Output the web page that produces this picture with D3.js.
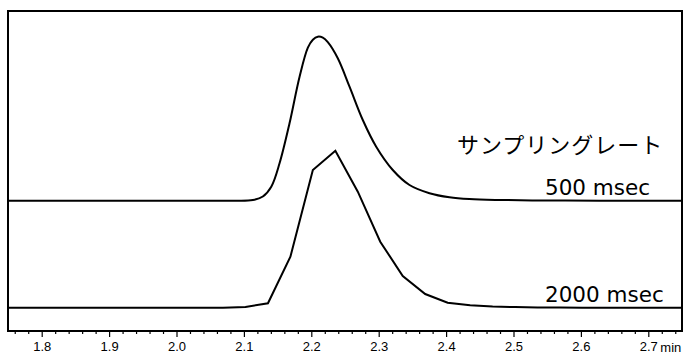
<!DOCTYPE html>
<html>
<head>
<meta charset="utf-8">
<script src="https://cdn.jsdelivr.net/npm/d3@7"></script>
<style>
  html, body { margin: 0; padding: 0; background: #fff; }
  svg { display: block; }
</style>
</head>
<body>
<svg id="chart" width="690" height="355"></svg>
<script>
// ---- Data (time in min, signal heights above each trace's baseline) ----
const majorTicks = [1.8, 1.9, 2.0, 2.1, 2.2, 2.3, 2.4, 2.5, 2.6, 2.7];
const tickLabels = ["1.8", "1.9", "2.0", "2.1", "2.2", "2.3", "2.4", "2.5", "2.6", "2.7"];
const axisUnit = "min";

const time500 = [1.75, 2.00, 2.0788, 2.1133, 2.1281, 2.1406, 2.1529, 2.1677, 2.1826, 2.1949,
                 2.2023, 2.2097, 2.2171, 2.2245, 2.2393, 2.2567, 2.2764, 2.2963, 2.3209, 2.3457,
                 2.3753, 2.4050, 2.4346, 2.4790, 2.5530, 2.6270, 2.75];
const signal500 = [0, 0, 0, 0.6, 4.2, 14, 37.4, 77.4, 124, 153,
                   161, 164, 163, 158.5, 142.4, 114, 80.7, 54, 30.7, 15.7,
                   7.5, 3.4, 1.6, 0.7, 0.2, 0, 0];

const time2000 = [1.7357, 1.7690, 1.8023, 1.8357, 1.8690, 1.9023, 1.9357, 1.9690, 2.0023, 2.0357,
                  2.0690, 2.1023, 2.1357, 2.1690, 2.2023, 2.2357, 2.2690, 2.3023, 2.3357, 2.3690,
                  2.4023, 2.4357, 2.4690, 2.5023, 2.5357, 2.5690, 2.6023, 2.6357, 2.6690, 2.7023,
                  2.7357, 2.7690];
const signal2000 = [0, 0, 0, 0, 0, 0, 0, 0, 0, 0,
                    0, 0.8, 4.4, 51, 137.7, 157, 116, 66, 31.7, 13.7,
                    5, 2.4, 1.2, 0.6, 0.3, 0.1, 0, 0, 0, 0,
                    0, 0];

const seriesNames = ["500 msec", "2000 msec"];
const seriesOffsets = [130.3, 23.3];
const legendTitle = "サンプリングレート";

// ---- Layout ----
const svg = d3.select("#chart");
const mLeft = 8, mRight = 682, mTop = 11, mBottom = 331;

const x = d3.scaleLinear().domain([1.75, 2.75]).range([mLeft, mRight]);
const y = d3.scaleLinear().domain([0, 320]).range([mBottom, mTop]);

svg.append("defs").append("clipPath").attr("id", "plotClip")
  .append("rect").attr("x", mLeft).attr("y", mTop).attr("width", mRight - mLeft).attr("height", mBottom - mTop);

// Traces
const trace500 = time500.map((t, i) => [t, signal500[i] + seriesOffsets[0]]);
const trace2000 = time2000.map((t, i) => [t, signal2000[i] + seriesOffsets[1]]);

const g = svg.append("g").attr("clip-path", "url(#plotClip)");
g.append("path")
  .datum(trace500)
  .attr("fill", "none").attr("stroke", "#000").attr("stroke-width", 2)
  .attr("stroke-linejoin", "round")
  .attr("d", d3.line().x(d => x(d[0])).y(d => y(d[1])).curve(d3.curveCatmullRom.alpha(0.5)));
g.append("path")
  .datum(trace2000)
  .attr("fill", "none").attr("stroke", "#000").attr("stroke-width", 2)
  .attr("stroke-linejoin", "miter")
  .attr("d", d3.line().x(d => x(d[0])).y(d => y(d[1])));

// Frame (left, top, right)
svg.append("path")
  .attr("d", `M${mLeft},${mBottom}V${mTop}H${mRight}V${mBottom}`)
  .attr("fill", "none").attr("stroke", "#000").attr("stroke-width", 2);

// Minor ticks
const minorTicks = d3.range(88).map(i => +(1.76 + i * 0.02).toFixed(2))
  .filter(v => v < 2.75 && !majorTicks.some(m => Math.abs(m - v) < 1e-6));
svg.append("g").attr("transform", `translate(0,${mBottom})`)
  .call(d3.axisBottom(x).tickValues(minorTicks).tickSize(3).tickFormat(""))
  .call(a => a.select(".domain").remove())
  .call(a => a.selectAll("line").attr("stroke", "#000").attr("stroke-width", 1.2));

// Major ticks and labels
const fmt = d => tickLabels[majorTicks.indexOf(d)];
const axis = svg.append("g").attr("transform", `translate(0,${mBottom})`)
  .call(d3.axisBottom(x).tickValues(majorTicks).tickSize(6).tickPadding(5).tickFormat(fmt));
axis.select(".domain").remove();
axis.selectAll("line").attr("stroke", "#000").attr("stroke-width", 1.2);
axis.selectAll("text")
  .style("font-family", "Liberation Sans, Arial, sans-serif")
  .style("font-size", "13px").attr("fill", "#000");

// Bottom axis line
svg.append("line").attr("x1", mLeft - 1).attr("x2", mRight + 1).attr("y1", mBottom).attr("y2", mBottom)
  .attr("stroke", "#000").attr("stroke-width", 2);

// Unit label
svg.append("text").attr("x", x(2.7) + 12).attr("y", mBottom + 20.5)
  .style("font-family", "Liberation Sans, Arial, sans-serif").style("font-size", "13px")
  .text(axisUnit);

// Annotations
svg.append("text").attr("x", 457).attr("y", 153)
  .style("font-family", "Noto Sans CJK JP, sans-serif").style("font-size", "22px")
  .style("letter-spacing", "1px")
  .text(legendTitle);
svg.append("text").attr("x", 545).attr("y", y(seriesOffsets[0]) - 6)
  .style("font-family", "DejaVu Sans, Verdana, sans-serif").style("font-size", "21.5px")
  .text(seriesNames[0]);
svg.append("text").attr("x", 545).attr("y", y(seriesOffsets[1]) - 6)
  .style("font-family", "DejaVu Sans, Verdana, sans-serif").style("font-size", "21.5px")
  .text(seriesNames[1]);
</script>
</body>
</html>
